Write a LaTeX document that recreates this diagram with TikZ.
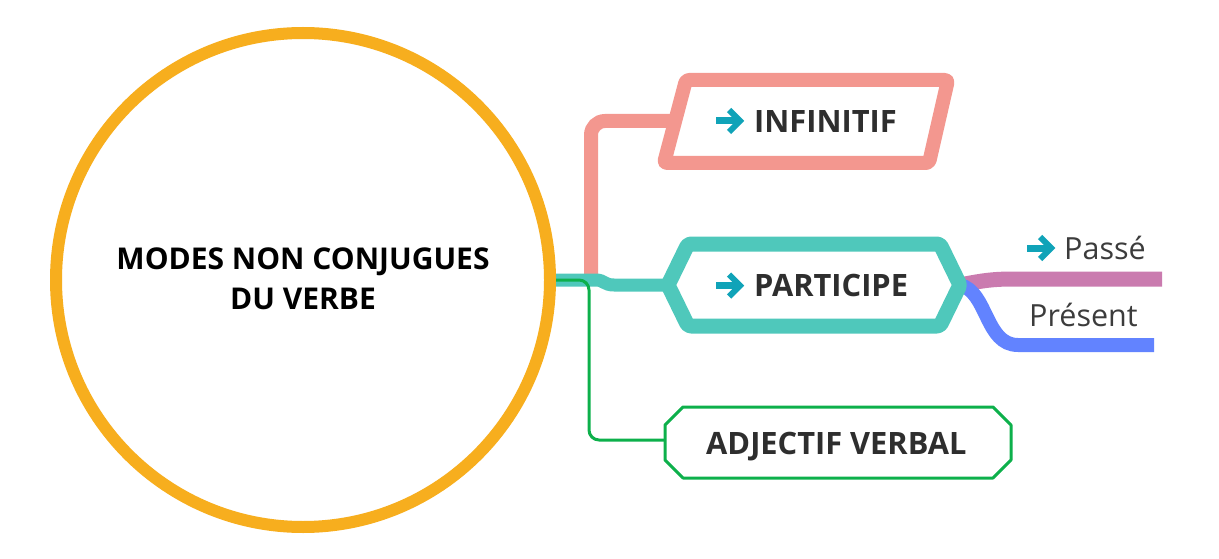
\documentclass[tikz,border=0pt]{standalone}
\usepackage{fontspec}
\setmainfont{Open Sans}
\definecolor{orangeC}{HTML}{F7AE1E}
\definecolor{salmonC}{HTML}{F3978F}
\definecolor{tealC}{HTML}{4FC8BB}
\definecolor{greenC}{HTML}{0DB04B}
\definecolor{magC}{HTML}{CA7BAF}
\definecolor{blueC}{HTML}{6283FF}
\definecolor{arrowC}{HTML}{10A3B8}
\definecolor{txtC}{HTML}{2E2E2E}
\definecolor{subC}{HTML}{3C3C3C}
\begin{document}
\begin{tikzpicture}[x=1pt,y=-1pt,
  lbl/.style={font=\fontsize{30.8}{36}\selectfont\bfseries, text=txtC, inner sep=0, anchor=base west},
  sub/.style={font=\fontsize{30.5}{36}\selectfont, text=subC, inner sep=0, anchor=base west},
  arr/.pic={\draw[arrowC, line width=7] (-14,0) -- (8,0);
            \draw[arrowC, line width=6, miter limit=10] (-1,-11) -- (10,0) -- (-1,11);}
]
\useasboundingbox (0,0) rectangle (1219,559);

% root circle
\node[draw=orangeC, line width=12, circle, minimum size=494, inner sep=0, fill=white] (root) at (303,280) {};

% named anchor coordinates
\coordinate (infL) at (675,121);
\coordinate (partL) at (668,285);
\coordinate (partR) at (960,285);
\coordinate (adjL) at (665,440);
\coordinate (passeEnd) at (1162,279);
\coordinate (presEnd) at (1154,345);
\coordinate (salBot) at (591,282);

% connectors
\draw[salmonC, line width=14, rounded corners=14] (salBot) -- (591,121) -- (infL);
\draw[tealC, line width=13] (root.east) -- (596,280) .. controls (604,280) and (604,285) .. (614,285) -- (partL);
\draw[greenC, line width=3, rounded corners=10] (root.east) -- (589,280) -- (589,440) -- (adjL);

\draw[magC, line width=15] (partR) .. controls (985,280) and (995,279) .. (1015,279) -- (passeEnd);
\draw[blueC, line width=14] (partR) .. controls (988,292) and (985,345) .. (1018,345) -- (presEnd);

% shapes
\draw[salmonC, line width=14, fill=white, rounded corners=3, line join=round]
  (686,80) -- (948,80) -- (929,163) -- (664,163) -- cycle;
\draw[tealC, line width=15, fill=white, rounded corners=3, line join=round]
  (partL) -- (688,244) -- (940,244) -- (partR) -- (940,326) -- (688,326) -- cycle;
\draw[greenC, line width=3, fill=white, line join=round]
  (665,425) -- (683,407) -- (993,407) -- (1011,425) -- (1011,460) -- (993,478) -- (683,478) -- (665,460) -- cycle;

% texts
\node[align=center, font=\fontsize{30}{40}\selectfont\bfseries, text=black, inner sep=0] (title) at (303,279) {MODES NON CONJUGUES\\DU VERBE};
\pic at (730,121) {arr};
\node[lbl] (inf) at (754,133) {INFINITIF};
\pic at (730,285.5) {arr};
\node[lbl] (part) at (754,296) {PARTICIPE};
\node[lbl] (adj) at (706,454) {ADJECTIF VERBAL};
\pic at (1041,248) {arr};
\node[sub] (passe) at (1064,259) {Passé};
\node[sub] (pres) at (1029,326) {Présent};
\end{tikzpicture}
\end{document}
